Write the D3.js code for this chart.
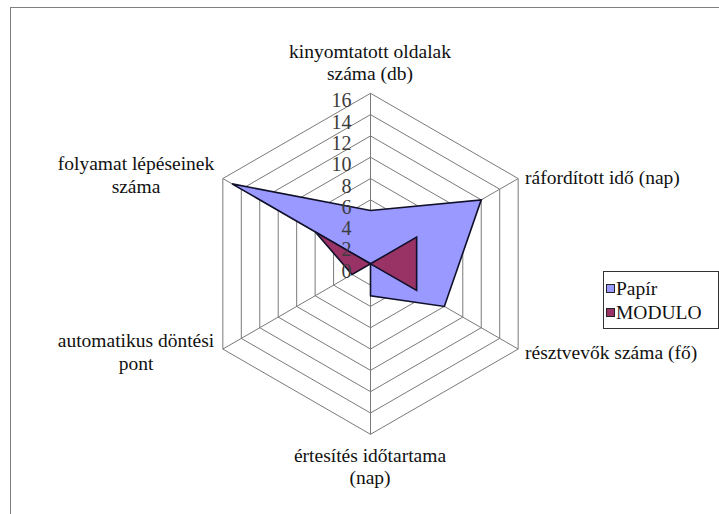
<!DOCTYPE html>
<html>
<head>
<meta charset="utf-8">
<script src="https://cdn.jsdelivr.net/npm/d3@7"></script>
<style>
  .lbl { font-family: "Times New Roman", "Liberation Serif", Tinos, serif; }
</style>
</head>
<body style="margin:0">
<svg id="chart" width="719" height="514"></svg>
<script>
// Data
const axes = [
	['kinyomtatott oldalak', 'száma (db)'],
	['ráfordított idő (nap)'],
	['résztvevők száma (fő)'],
	['értesítés időtartama', '(nap)'],
	['automatikus döntési', 'pont'],
	['folyamat lépéseinek', 'száma']
];
const papir = [5, 12, 8, 3, 0, 15];
const modulo = [0, 5, 5, 0, 2, 6];
const seriesNames = ['Papír', 'MODULO'];
const seriesColors = ['#9999ff', '#993366'];
const ticks = [0, 2, 4, 6, 8, 10, 12, 14, 16];

const svg = d3.select('#chart');

// Outer chart frame (right and bottom edges are cut off in the picture)
svg.append('rect')
	.attr('x', 10.5).attr('y', 7.5)
	.attr('width', 760).attr('height', 560)
	.attr('fill', 'none')
	.attr('stroke', '#808080');

const cx = 370.5, cy = 263.8;
const r = d3.scaleLinear().domain([0, 16]).range([0, 170.5]);
const angle = i => i * Math.PI / 3; // clockwise from top
const pt = (i, v) => [cx + r(v) * Math.sin(angle(i)), cy - r(v) * Math.cos(angle(i))];

const g = svg.append('g');

// Grid rings
const ring = d3.line().curve(d3.curveLinearClosed);
g.selectAll('path.ring')
	.data(ticks.slice(1))
.join('path')
	.attr('class', 'ring')
	.attr('d', t => ring(axes.map((a, i) => pt(i, t))))
	.attr('fill', 'none')
	.attr('stroke', '#7a7a7a')
	.attr('stroke-width', 1);

// Spokes
g.selectAll('line.spoke')
	.data(axes)
.join('line')
	.attr('class', 'spoke')
	.attr('x1', cx).attr('y1', cy)
	.attr('x2', (d, i) => pt(i, 16)[0])
	.attr('y2', (d, i) => pt(i, 16)[1])
	.attr('stroke', '#7a7a7a');

// Series areas
const radial = d3.lineRadial()
	.angle((d, i) => angle(i))
	.radius(d => r(d))
	.curve(d3.curveLinearClosed);

g.selectAll('path.series')
	.data([papir, modulo])
.join('path')
	.attr('class', 'series')
	.attr('transform', 'translate(' + cx + ',' + cy + ')')
	.attr('d', d => radial(d))
	.attr('fill', (d, i) => seriesColors[i])
	.attr('stroke', '#10102a')
	.attr('stroke-width', 1.6)
	.attr('stroke-linejoin', 'miter');

// Tick labels along the top axis
g.selectAll('text.tick')
	.data(ticks)
.join('text')
	.attr('class', 'tick lbl')
	.attr('x', cx - 19)
	.attr('y', t => cy - r(t) + 14)
	.attr('text-anchor', 'end')
	.attr('font-size', 20)
	.attr('fill', '#3c3c3c')
	.text(t => t);

// Axis labels
const labelPos = [
	{ x: 370, y: 57.5, anchor: 'middle' },
	{ x: 525, y: 183.5, anchor: 'start' },
	{ x: 525, y: 359, anchor: 'start' },
	{ x: 370, y: 461.5, anchor: 'middle' },
	{ x: 136, y: 347, anchor: 'middle' },
	{ x: 136, y: 170, anchor: 'middle' }
];
axes.forEach((lines, i) => {
	const p = labelPos[i];
	lines.forEach((line, j) => {
		svg.append('text')
			.attr('class', 'lbl')
			.attr('x', p.x)
			.attr('y', p.y + j * 22.5)
			.attr('text-anchor', p.anchor)
			.attr('font-size', 19.5)
			.attr('fill', '#111')
			.text(line);
	});
});

// Legend
const legend = svg.append('g');
legend.append('rect')
	.attr('x', 603.5).attr('y', 271.5)
	.attr('width', 115).attr('height', 57)
	.attr('fill', '#fff')
	.attr('stroke', '#333');

const items = legend.selectAll('g.item')
	.data(seriesNames)
.join('g')
	.attr('class', 'item')
	.attr('transform', (d, i) => 'translate(606,' + (288 + i * 24) + ')');

items.append('rect')
	.attr('x', 0.5).attr('y', -3.5)
	.attr('width', 8).attr('height', 8)
	.attr('fill', (d, i) => seriesColors[i])
	.attr('stroke', '#222');

items.append('text')
	.attr('class', 'lbl')
	.attr('x', 10)
	.attr('y', 7)
	.attr('font-size', 19.5)
	.attr('fill', '#111')
	.text(d => d);
</script>
</body>
</html>
